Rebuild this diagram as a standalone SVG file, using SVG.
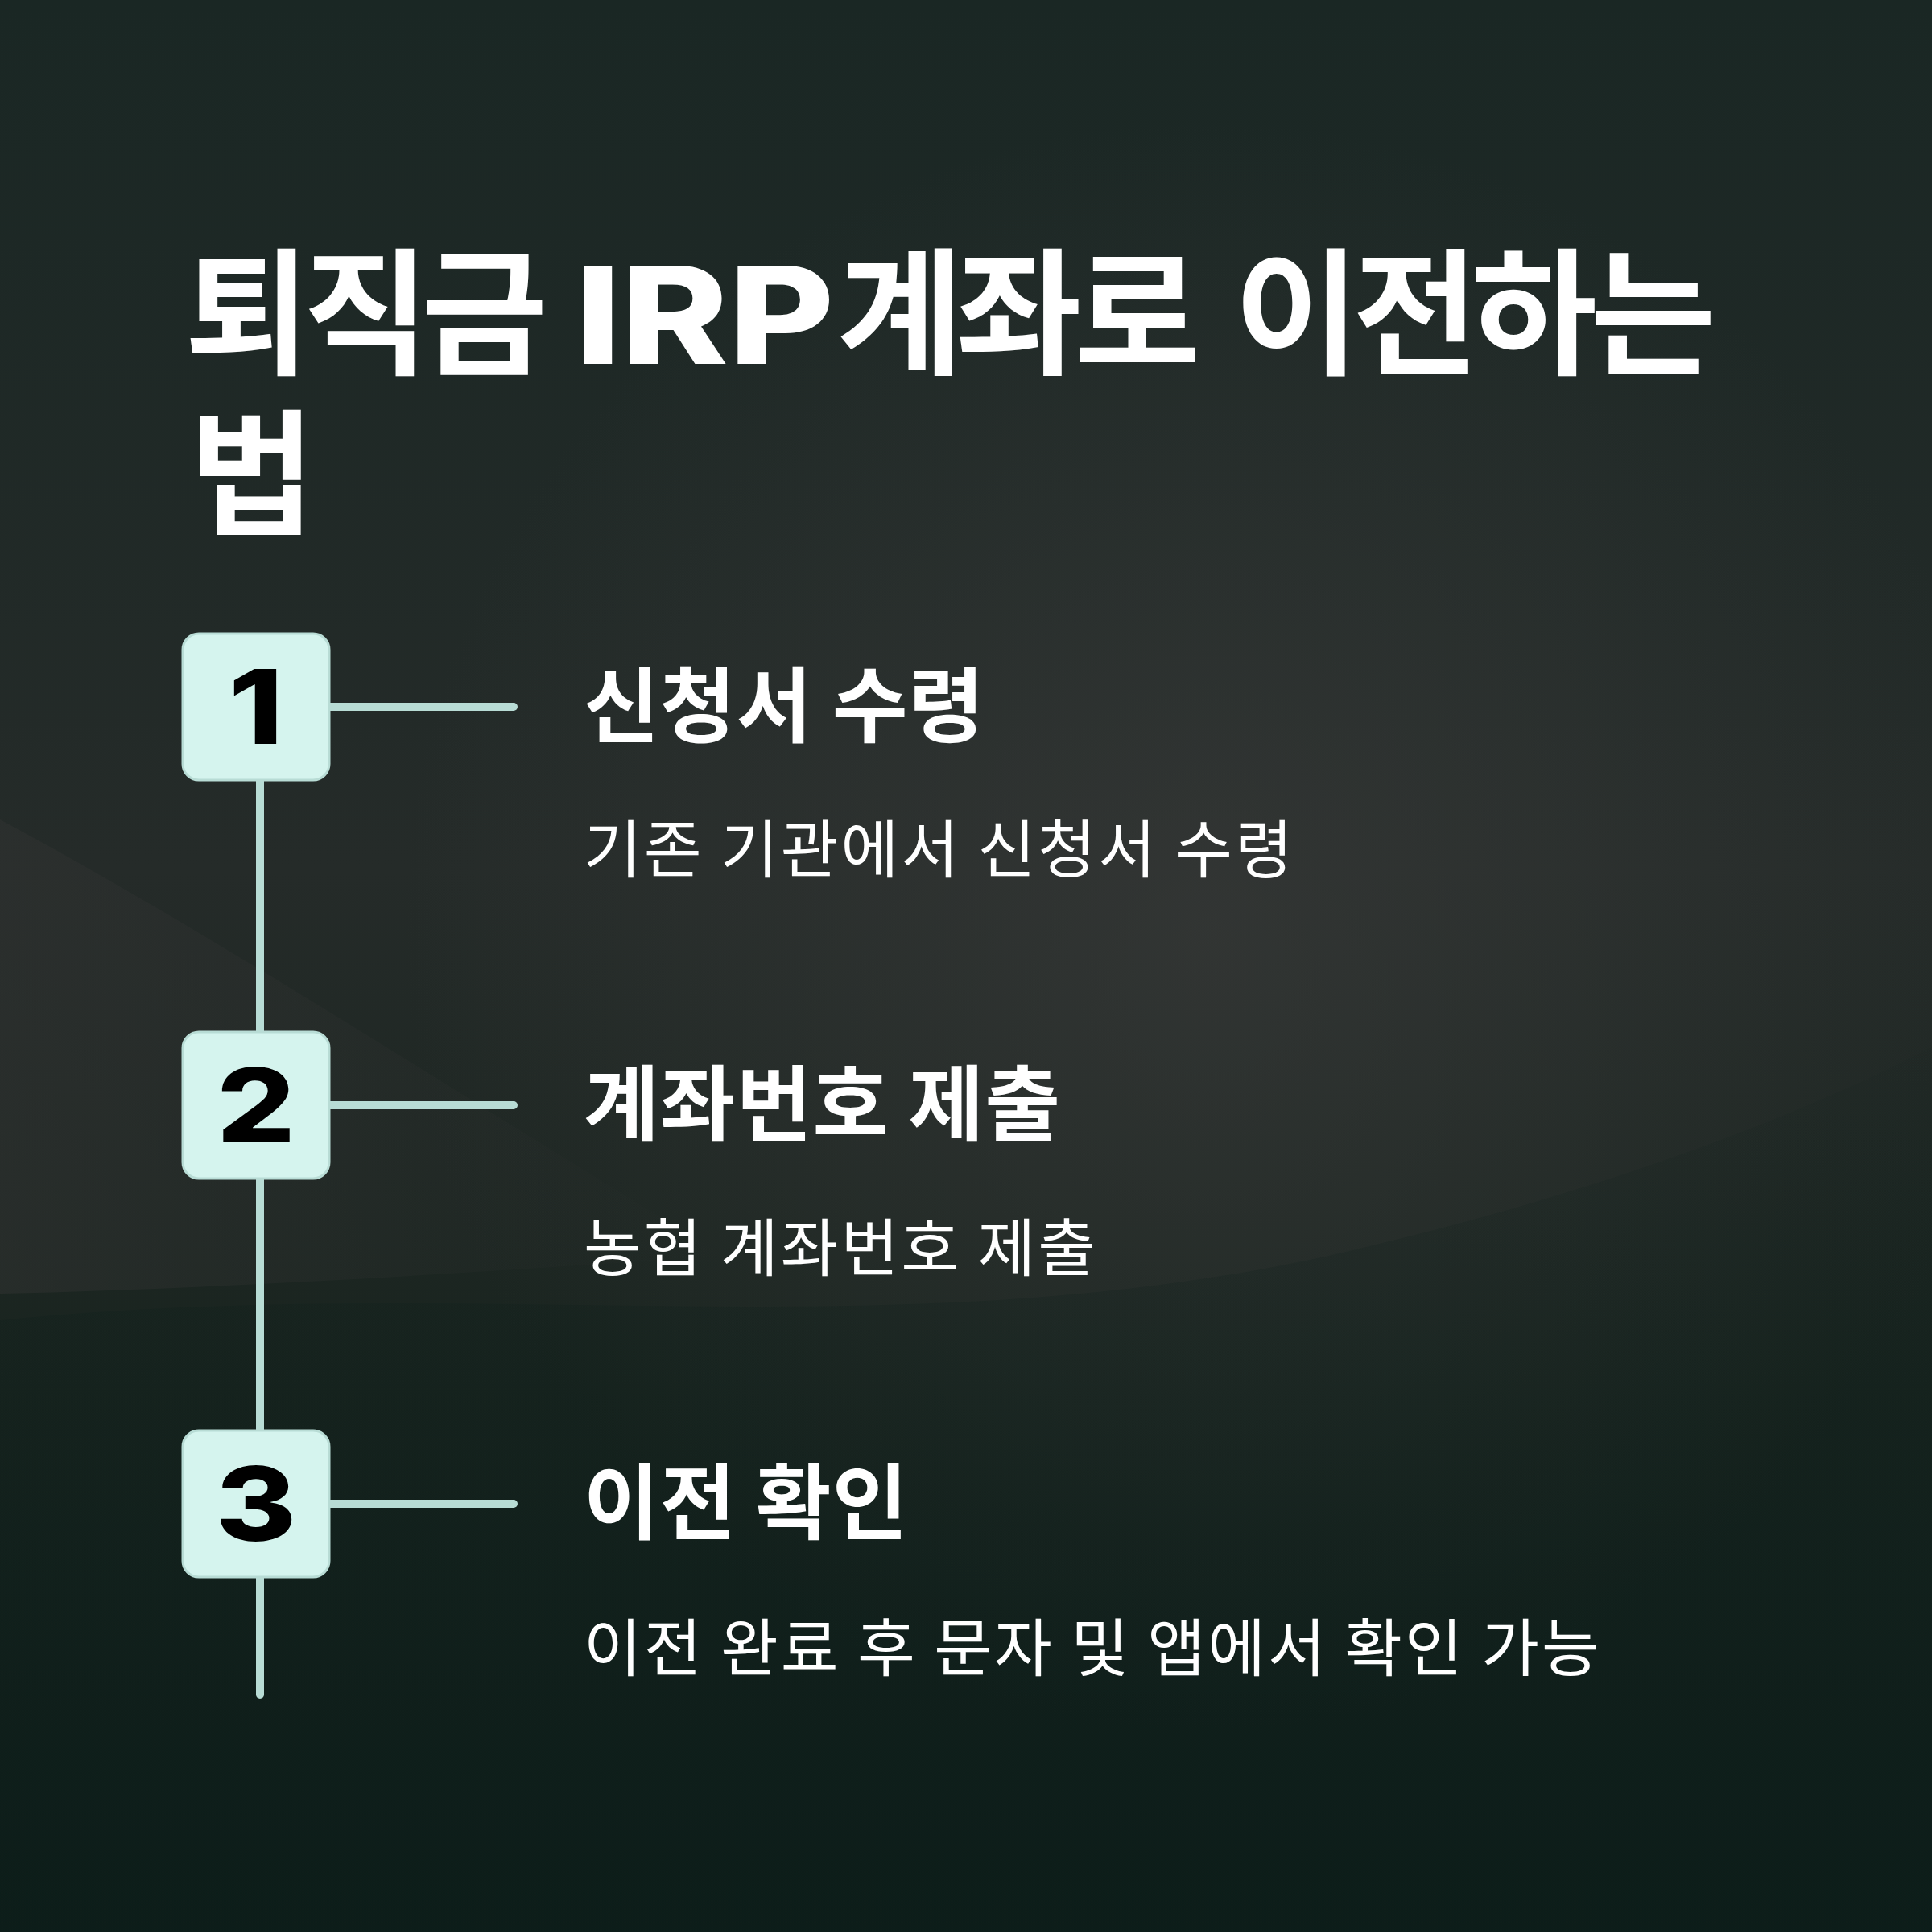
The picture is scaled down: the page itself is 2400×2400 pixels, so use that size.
<svg xmlns="http://www.w3.org/2000/svg" width="2400" height="2400" viewBox="0 0 2400 2400">
  <defs>
    <linearGradient id="bg" x1="0" y1="0" x2="0" y2="1">
      <stop offset="0" stop-color="#1a2724"/>
      <stop offset="0.45" stop-color="#252b29"/>
      <stop offset="0.72" stop-color="#19241f"/>
      <stop offset="1" stop-color="#0e1c19"/>
    </linearGradient>
    <radialGradient id="glow" cx="1500" cy="1150" r="1000" gradientUnits="userSpaceOnUse">
      <stop offset="0" stop-color="#3b3c3b" stop-opacity="0.6"/>
      <stop offset="1" stop-color="#3b3c3b" stop-opacity="0"/>
    </radialGradient>
    <linearGradient id="leftwave" x1="0" y1="0" x2="1" y2="0">
      <stop offset="0" stop-color="#303231" stop-opacity="0.55"/>
      <stop offset="1" stop-color="#303231" stop-opacity="0"/>
    </linearGradient>
    <linearGradient id="dark" x1="0" y1="1300" x2="0" y2="2400" gradientUnits="userSpaceOnUse">
      <stop offset="0" stop-color="#0c1e1a" stop-opacity="0.05"/>
      <stop offset="0.5" stop-color="#0c1e1a" stop-opacity="0.35"/>
      <stop offset="1" stop-color="#0c1e1a" stop-opacity="0.6"/>
    </linearGradient>
    <style>
      .title { font-family: "Noto Sans CJK KR", "Noto Sans", sans-serif; font-weight: 700; font-size: 170px; fill: #ffffff; letter-spacing: -9px; }
      .latin { font-family: Inter, "Noto Sans", sans-serif; font-weight: 800; font-size: 168px; fill: #ffffff; }
      .head { font-family: "Noto Sans CJK KR", "Noto Sans", sans-serif; font-weight: 700; font-size: 102px; fill: #ffffff; letter-spacing: 1px; }
      .desc { font-family: "Noto Sans CJK KR", "Noto Sans", sans-serif; font-weight: 400; font-size: 78px; fill: #ffffff; letter-spacing: 3px; }
      .box { fill: #d5f4ee; stroke: #b8dcd5; stroke-width: 3; }
      .num { font-family: Inter, "Noto Sans", sans-serif; font-weight: 800; font-size: 128px; fill: #000000; text-anchor: middle; }
      .conn { stroke: #b8dcd5; stroke-width: 10; stroke-linecap: round; fill: none; }
    </style>
  </defs>

  <g id="background">
    <rect x="0" y="0" width="2400" height="2400" fill="url(#bg)"/>
    <rect x="0" y="0" width="2400" height="2400" fill="url(#glow)"/>
    <path d="M0 1018 C 300 1180 600 1380 900 1560 C 600 1580 300 1600 0 1607 Z" fill="url(#leftwave)"/>
    <path d="M0 1640 C 600 1580 1100 1680 1650 1560 C 2000 1480 2250 1380 2400 1300 L 2400 2400 L 0 2400 Z" fill="url(#dark)"/>
  </g>

  <g id="title">
    <text class="title" x="229" y="452">퇴직금</text>
    <text class="latin" transform="translate(714 452) scale(1.2 1)" x="0" y="0">IRP</text>
    <text class="title" x="1040" y="452">계좌로</text>
    <text class="title" x="1533" y="452">이전하는</text>
    <text class="title" x="235" y="652">법</text>
  </g>

  <g id="connectors">
    <path class="conn" d="M323 880 V2105"/>
    <path class="conn" d="M409 878 H638"/>
    <path class="conn" d="M409 1373 H638"/>
    <path class="conn" d="M409 1868 H638"/>
  </g>

  <g id="step1">
    <rect class="box" x="227" y="787" width="182" height="182" rx="20"/>
    <text class="num" transform="translate(318 924) scale(1.2 1)" x="0" y="0">1</text>
    <text class="head" x="725" y="914">신청서 수령</text>
    <text class="desc" x="725" y="1084">기존 기관에서 신청서 수령</text>
  </g>

  <g id="step2">
    <rect class="box" x="227" y="1282" width="182" height="182" rx="20"/>
    <text class="num" transform="translate(318 1419) scale(1.2 1)" x="0" y="0">2</text>
    <text class="head" x="725" y="1409">계좌번호 제출</text>
    <text class="desc" x="725" y="1579">농협 계좌번호 제출</text>
  </g>

  <g id="step3">
    <rect class="box" x="227" y="1777" width="182" height="182" rx="20"/>
    <text class="num" transform="translate(318 1914) scale(1.2 1)" x="0" y="0">3</text>
    <text class="head" x="725" y="1904">이전 확인</text>
    <text class="desc" x="725" y="2076">이전 완료 후 문자 및 앱에서 확인 가능</text>
  </g>
</svg>
